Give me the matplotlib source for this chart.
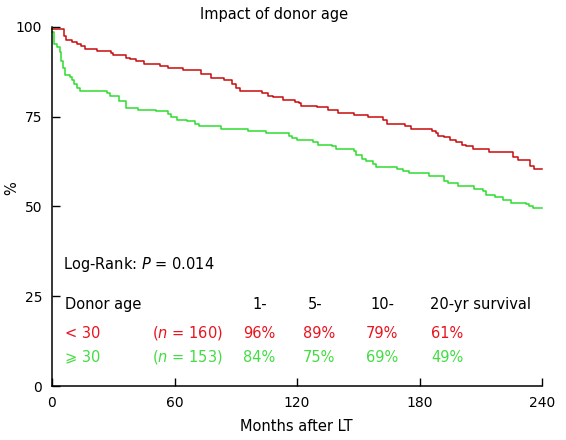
import numpy as np
import matplotlib
matplotlib.use("Agg")
import matplotlib.pyplot as plt

# survival curves (months, % surviving)
t_young = [0, 6, 7, 10, 12, 14, 16, 22, 29, 30, 36, 38, 41, 45, 53, 57, 64, 73, 78, 84,
           88, 90, 92, 103, 106, 108, 113, 119, 121, 122, 130, 135, 140, 148, 155, 162, 164,
           173, 176, 186, 188, 189, 192, 195, 198, 201, 203, 206, 214, 226, 228, 234, 236]
s_young = [99.5, 97.4, 96.4, 95.8, 95.3, 94.8, 93.8, 93.3, 92.8, 92.2, 91.5, 91.0, 90.4, 89.6,
           89.2, 88.5, 88.0, 86.9, 85.7, 85.2, 84.1, 83.0, 82.2, 81.5, 80.8, 80.4, 79.6, 79.1,
           78.7, 78.1, 77.6, 76.9, 76.0, 75.6, 75.0, 74.1, 73.1, 72.3, 71.6, 71.1, 70.5, 69.7,
           69.3, 68.6, 67.9, 67.2, 66.8, 66.0, 65.3, 63.7, 62.9, 61.3, 60.5]

t_old = [0, 1, 2.5, 3.8, 4.6, 5.4, 6.2, 9, 10, 11, 12.3, 13.6, 26.7, 28.3, 32.6, 36, 42, 51,
         57, 58.5, 61, 66, 70, 72, 83, 96, 105, 116, 117.5, 120, 128, 130.5, 137, 139, 148,
         149, 152, 154, 157, 158.5, 169, 172, 175, 184.5, 192, 194, 199, 206.5, 211, 212.5,
         217, 221, 225, 232, 233.5, 235.5]
s_old = [98.5, 95.2, 94.5, 92.9, 90.6, 88.7, 86.7, 86.1, 85.3, 84.1, 83.0, 82.2, 81.6, 80.8,
         79.4, 77.4, 76.9, 76.5, 75.7, 74.8, 74.2, 73.7, 73.0, 72.4, 71.6, 71.1, 70.5, 69.7,
         69.1, 68.5, 67.9, 67.2, 66.8, 66.0, 65.4, 64.4, 63.2, 62.6, 61.9, 61.1, 60.5, 60.0,
         59.3, 58.4, 57.2, 56.6, 55.8, 54.9, 54.4, 53.1, 52.6, 51.7, 51.0, 50.6, 50.1, 49.7]

x_ticks = [0, 60, 120, 180, 240]
y_ticks = [0, 25, 50, 75, 100]

table_header = ["1-", "5-", "10-", "20-yr survival"]
group_labels = ["< 30", "\u2a7e 30"]
group_n = ["160", "153"]
rates_young = ["96%", "89%", "79%", "61%"]
rates_old = ["84%", "75%", "69%", "49%"]

RED_LINE = "#c80c0c"
GREEN_LINE = "#2edc2e"
RED_TXT = "#e8141e"
GREEN_TXT = "#44dc44"

W, H = 566, 440
plt.rcParams["font.family"] = ["DejaVu Sans"]
plt.rcParams["mathtext.fontset"] = "dejavusans"

fig = plt.figure(figsize=(W / 100, H / 100), dpi=100)
ax = fig.add_axes([52 / W, 1 - 386 / H, 490 / W, 359 / H])


def fx(px):
    return px / W


def fy(py):
    return 1 - py / H


# extend each curve to the end of follow-up
ax.step(t_young + [240], s_young + [s_young[-1]], where="post", color=RED_LINE, lw=1.1, clip_on=False)
ax.step(t_old + [240], s_old + [s_old[-1]], where="post", color=GREEN_LINE, lw=1.1, clip_on=False)

ax.set_xlim(0, 240)
ax.set_ylim(0, 100)
ax.set_xticks(x_ticks)
ax.set_yticks(y_ticks)
ax.tick_params(direction="in", length=6, width=1, labelsize=10, pad=7, colors="black")
ax.spines["top"].set_visible(False)
ax.spines["right"].set_visible(False)
for s in ["left", "bottom"]:
    ax.spines[s].set_linewidth(1.1)

fig.text(fx(274), fy(14), "Impact of donor age", ha="center", va="center", fontsize=10.5)
fig.text(fx(296), fy(426), "Months after LT", ha="center", va="center", fontsize=10.5)
fig.text(fx(12), fy(188), "%", ha="center", va="center", fontsize=10.5, rotation=90)

fs = 10.5
fig.text(fx(63), fy(264), "Log-Rank: $\\mathit{P}$ = 0.014", ha="left", va="center", fontsize=fs)

col_x = [252, 308, 370, 430]
fig.text(fx(65), fy(304), "Donor age", ha="left", va="center", fontsize=fs)
for x, h in zip(col_x, table_header):
    fig.text(fx(x), fy(304), h, ha="left", va="center", fontsize=fs)

val_x = [243, 303, 366, 431]
rows = [(333, RED_TXT, rates_young), (357, GREEN_TXT, rates_old)]
for (y, c, rates), g, n in zip(rows, group_labels, group_n):
    fig.text(fx(65), fy(y), g, ha="left", va="center", fontsize=fs, color=c,
             family=["DejaVu Sans", "Noto Sans"])
    fig.text(fx(152), fy(y), "($\\mathit{n}$ = " + n + ")", ha="left", va="center", fontsize=fs, color=c)
    for x, r in zip(val_x, rates):
        fig.text(fx(x), fy(y), r, ha="left", va="center", fontsize=fs, color=c)

fig.savefig("out.png", dpi=100)
